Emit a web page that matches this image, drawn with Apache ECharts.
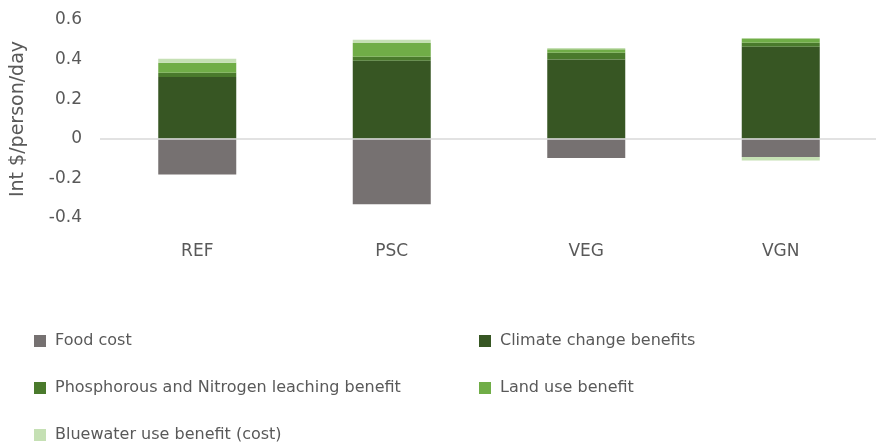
<!DOCTYPE html>
<html><head><meta charset="utf-8">
<script src="https://cdn.jsdelivr.net/npm/echarts@6/dist/echarts.min.js"></script>
<style>html,body{margin:0;padding:0;background:#fff}#c{width:876px;height:444px}</style>
</head><body><div id="c"></div>
<script>
const categories = ['REF', 'PSC', 'VEG', 'VGN'];
const foodCost = [-0.18, -0.33, -0.097, -0.092];
const climate = [0.312, 0.394, 0.40, 0.465];
const leaching = [0.022, 0.02, 0.035, 0.02];
const landUse = [0.05, 0.07, 0.017, 0.022];
const bluewater = [0.02, 0.016, 0.006, -0.018];
const yTicks = { min: -0.4, max: 0.6, interval: 0.2 };

const font = 'DejaVu Sans';
const txt = '#595959';
const chart = echarts.init(document.getElementById('c'), null, { renderer: 'canvas' });
function bar(name, data, color, extra) {
  return Object.assign({ name, type: 'bar', stack: 'all', data, barWidth: 78,
    itemStyle: { color }, emphasis: { disabled: true } }, extra || {});
}
function leg(name, left, top) {
  return { data: [name], left, top, itemWidth: 12, itemHeight: 12, itemGap: 0,
    icon: 'rect', selectedMode: false, padding: 0,
    textStyle: { color: txt, fontSize: 16, fontFamily: font, padding: [0, 0, 0, 4] } };
}
chart.setOption({
  animation: false,
  textStyle: { fontFamily: font },
  grid: { left: 100, width: 778, top: 20, bottom: 226, containLabel: false, outerBoundsMode: 'none' },
  xAxis: { type: 'category', data: categories,
    axisLine: { show: false, onZero: false }, axisTick: { show: false },
    axisLabel: { color: txt, fontSize: 17, margin: 25, fontFamily: font } },
  yAxis: { type: 'value', min: yTicks.min, max: yTicks.max, interval: yTicks.interval,
    splitLine: { show: false }, axisLine: { show: false }, axisTick: { show: false },
    axisLabel: { color: txt, fontSize: 17, margin: 18, fontFamily: font },
    name: 'Int $/person/day', nameLocation: 'middle', nameRotate: 90, nameGap: 72,
    nameTextStyle: { color: txt, fontSize: 19, fontFamily: font } },
  legend: [
    leg('Food cost', 34, 333),
    leg('Phosphorous and Nitrogen leaching benefit', 34, 380),
    leg('Bluewater use benefit (cost)', 34, 427),
    leg('Climate change benefits', 479, 333),
    leg('Land use benefit', 479, 380)
  ],
  series: [
    bar('Food cost', foodCost, '#767171', {
      markLine: { silent: true, symbol: 'none', label: { show: false },
        lineStyle: { color: '#d9d9d9', type: 'solid', width: 1.5 },
        data: [{ yAxis: 0 }] } }),
    bar('Climate change benefits', climate, '#375623'),
    bar('Phosphorous and Nitrogen leaching benefit', leaching, '#4a7a2c'),
    bar('Land use benefit', landUse, '#70ad47'),
    bar('Bluewater use benefit (cost)', bluewater, '#c5e0b4')
  ]
});
</script></body></html>
